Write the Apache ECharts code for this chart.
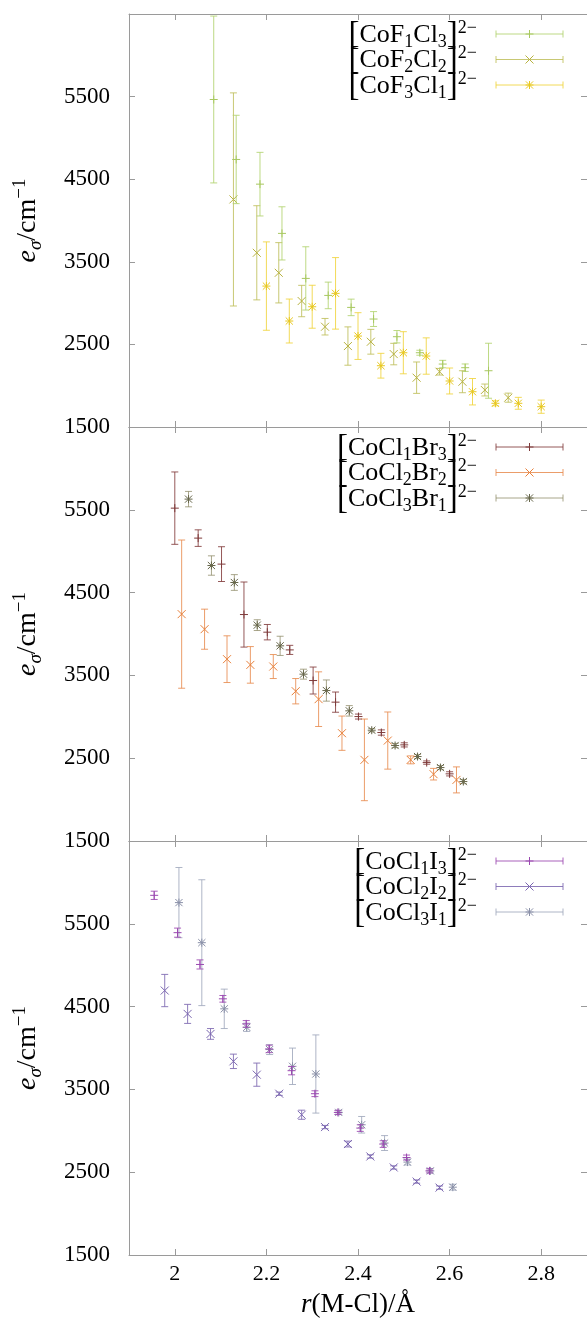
<!DOCTYPE html>
<html>
<head>
<meta charset="utf-8">
<script src="https://cdn.jsdelivr.net/npm/echarts@6.0.0/dist/echarts.min.js"></script>
<style>
html,body{margin:0;padding:0;background:#fff;}
#chart{width:587px;height:1328px;}
</style>
</head>
<body>
<div id="chart"></div>
<script>
// ---------- tick labels ----------
const xTicks = [2, 2.2, 2.4, 2.6, 2.8];
const yTicks = [1500, 2500, 3500, 4500, 5500];

// ---------- panel 1: [CoFnClm]2- ----------
const F1Cl3_x = [2.085, 2.134, 2.186, 2.234, 2.286, 2.335, 2.385, 2.434, 2.485, 2.535, 2.585, 2.634, 2.685];
const F1Cl3_y = [5465, 4739, 4440, 3844, 3299, 3093, 2948, 2807, 2593, 2399, 2262, 2218, 2181];
const F1Cl3_e = [1010, 535, 385, 322, 383, 161, 100, 90, 75, 30, 45, 45, 333];

const F2Cl2_x = [2.128, 2.179, 2.227, 2.277, 2.328, 2.378, 2.428, 2.478, 2.528, 2.578, 2.628, 2.677, 2.728];
const F2Cl2_y = [4255, 3609, 3367, 3025, 2714, 2480, 2532, 2383, 2097, 2169, 2048, 1948, 1855];
const F2Cl2_e = [1290, 570, 365, 190, 100, 232, 150, 130, 190, 40, 133, 72, 55];

const F3Cl1_x = [2.200, 2.250, 2.300, 2.351, 2.400, 2.450, 2.499, 2.549, 2.600, 2.650, 2.700, 2.750, 2.800];
const F3Cl1_y = [3206, 2783, 2956, 3118, 2601, 2242, 2399, 2359, 2057, 1927, 1787, 1787, 1746];
const F3Cl1_e = [535, 266, 260, 433, 283, 150, 255, 220, 157, 160, 30, 72, 80];

// ---------- panel 2: [CoClnBrm]2- ----------
const Cl1Br3_x = [2.000, 2.051, 2.102, 2.151, 2.202, 2.251, 2.302, 2.351, 2.401, 2.451, 2.501, 2.550, 2.600];
const Cl1Br3_y = [5520, 5158, 4844, 4235, 4022, 3808, 3438, 3177, 3003, 2810, 2661, 2447, 2311];
const Cl1Br3_e = [437, 100, 210, 393, 93, 55, 163, 122, 30, 32, 25, 20, 25];

const Cl2Br2_x = [2.015, 2.065, 2.114, 2.165, 2.215, 2.264, 2.314, 2.365, 2.414, 2.465, 2.515, 2.565, 2.615];
const Cl2Br2_y = [4240, 4058, 3696, 3627, 3607, 3309, 3213, 2802, 2480, 2713, 2480, 2307, 2238];
const Cl2Br2_e = [895, 242, 282, 221, 145, 153, 330, 207, 493, 345, 48, 70, 157];

const Cl3Br1_x = [2.030, 2.080, 2.130, 2.180, 2.230, 2.281, 2.331, 2.381, 2.430, 2.481, 2.530, 2.580, 2.630];
const Cl3Br1_y = [5629, 4827, 4622, 4107, 3857, 3515, 3317, 3072, 2838, 2653, 2520, 2387, 2218];
const Cl3Br1_e = [93, 117, 95, 65, 116, 60, 128, 63, 20, 25, 25, 25, 25];

// ---------- panel 3: [CoClnIm]2- ----------
const Cl1I3_x = [1.955, 2.006, 2.055, 2.105, 2.156, 2.206, 2.255, 2.306, 2.356, 2.405, 2.455, 2.506, 2.556];
const Cl1I3_y = [5844, 5393, 5009, 4594, 4291, 3989, 3726, 3448, 3222, 3033, 2840, 2677, 2516];
const Cl1I3_e = [50, 55, 55, 40, 40, 45, 50, 35, 25, 40, 40, 30, 25];

const Cl2I2_x = [1.978, 2.028, 2.078, 2.128, 2.179, 2.228, 2.277, 2.328, 2.378, 2.427, 2.478, 2.528, 2.578];
const Cl2I2_y = [4694, 4412, 4170, 3839, 3678, 3448, 3194, 3045, 2840, 2690, 2557, 2387, 2314];
const Cl2I2_e = [195, 115, 65, 87, 140, 20, 55, 20, 35, 20, 20, 20, 20];

const Cl3I1_x = [2.009, 2.059, 2.108, 2.157, 2.207, 2.257, 2.308, 2.358, 2.408, 2.458, 2.508, 2.558, 2.607];
const Cl3I1_y = [5756, 5272, 4473, 4250, 3981, 3779, 3686, 3222, 3073, 2852, 2622, 2516, 2319];
const Cl3I1_e = [424, 760, 238, 50, 60, 220, 472, 20, 100, 90, 35, 25, 35];

// legend labels: [element1, count1, element2, count2]
const names1 = [['CoF','1','Cl','3'], ['CoF','2','Cl','2'], ['CoF','3','Cl','1']];
const names2 = [['CoCl','1','Br','3'], ['CoCl','2','Br','2'], ['CoCl','3','Br','1']];
const names3 = [['CoCl','1','I','3'], ['CoCl','2','I','2'], ['CoCl','3','I','1']];

// ---------- styling / layout ----------
const FONT = 'Liberation Serif';
const AXIS_C = '#9a9a9a';
const panels = [
  { top: 14, height: 413, names: names1, sets: [
    { x: F1Cl3_x, y: F1Cl3_y, e: F1Cl3_e, m: 'plus',  line: 'rgba(178,210,110,0.85)', mark: '#a8c860' },
    { x: F2Cl2_x, y: F2Cl2_y, e: F2Cl2_e, m: 'cross', line: 'rgba(190,190,90,0.85)',  mark: '#b8b240' },
    { x: F3Cl1_x, y: F3Cl1_y, e: F3Cl1_e, m: 'star',  line: 'rgba(240,212,60,0.85)',  mark: '#e8c820' } ]},
  { top: 427, height: 414, names: names2, sets: [
    { x: Cl1Br3_x, y: Cl1Br3_y, e: Cl1Br3_e, m: 'plus',  line: 'rgba(130,60,60,0.85)',   mark: '#7e3a3a' },
    { x: Cl2Br2_x, y: Cl2Br2_y, e: Cl2Br2_e, m: 'cross', line: 'rgba(232,140,80,0.85)',  mark: '#e8803a' },
    { x: Cl3Br1_x, y: Cl3Br1_y, e: Cl3Br1_e, m: 'star',  line: 'rgba(140,136,100,0.75)', mark: '#66664a' } ]},
  { top: 841, height: 414, names: names3, sets: [
    { x: Cl1I3_x, y: Cl1I3_y, e: Cl1I3_e, m: 'plus',  line: 'rgba(160,80,180,0.9)',   mark: '#9a48b0' },
    { x: Cl2I2_x, y: Cl2I2_y, e: Cl2I2_e, m: 'cross', line: 'rgba(130,110,180,0.9)',  mark: '#7a66b0' },
    { x: Cl3I1_x, y: Cl3I1_y, e: Cl3I1_e, m: 'star',  line: 'rgba(160,168,188,0.85)', mark: '#8a90a8' } ]}
];
const GRID_LEFT = 129, GRID_W = 465;

function seg(x1, y1, x2, y2, color, w) {
  return { type: 'line', shape: { x1, y1, x2, y2 }, style: { stroke: color, lineWidth: w || 1 }, silent: true };
}
function markerLines(type, cx, cy, color) {
  const s = 4, d = 3.6, out = [];
  if (type === 'plus' || type === 'star') {
    out.push(seg(cx - s, cy, cx + s, cy, color));
    out.push(seg(cx, cy - s, cx, cy + s, color));
  }
  if (type === 'cross' || type === 'star') {
    const k = type === 'star' ? d : s;
    out.push(seg(cx - k, cy - k, cx + k, cy + k, color));
    out.push(seg(cx - k, cy + k, cx + k, cy - k, color));
  }
  return out;
}
function makeRender(set) {
  return function (params, api) {
    const x = api.value(0), y = api.value(1), e = api.value(2);
    const p = api.coord([x, y]);
    const pt = api.coord([x, y + e]);
    const pb = api.coord([x, y - e]);
    const cw = 3.5;
    const children = [
      seg(p[0], pt[1], p[0], pb[1], set.line),
      seg(p[0] - cw, pt[1], p[0] + cw, pt[1], set.line),
      seg(p[0] - cw, pb[1], p[0] + cw, pb[1], set.line)
    ].concat(markerLines(set.m, p[0], p[1], set.mark));
    return { type: 'group', children };
  };
}
function richName(parts) {
  return '{b|[}{t|' + parts[0] + '}{s|' + parts[1] + '}{t|' + parts[2] + '}{s|' + parts[3] + '}{b|]}{p|2−}';
}
const legendRich = {
  b: { fontFamily: FONT, fontSize: 33, lineHeight: 32, color: '#000', verticalAlign: 'middle' },
  t: { fontFamily: FONT, fontSize: 26, lineHeight: 32, color: '#000', verticalAlign: 'middle' },
  s: { fontFamily: FONT, fontSize: 18, lineHeight: 16, color: '#000', verticalAlign: 'bottom' },
  p: { fontFamily: FONT, fontSize: 18, lineHeight: 16, color: '#000', verticalAlign: 'top' }
};

const grids = [], xAxes = [], yAxes = [], series = [], graphics = [];
const rowOff = [20, 45.5, 71];
panels.forEach((pn, i) => {
  grids.push({ left: GRID_LEFT, width: GRID_W, top: pn.top, height: pn.height, containLabel: false });
  const tickCommon = { show: true, inside: true, length: 6, lineStyle: { color: AXIS_C } };
  xAxes.push({
    gridIndex: i, type: 'value', min: 1.9, max: 2.9, position: 'bottom',
    axisLine: { show: true, onZero: false, lineStyle: { color: AXIS_C, width: 1 } },
    axisTick: Object.assign({ customValues: xTicks }, tickCommon),
    axisLabel: { show: i === 2, customValues: xTicks, fontFamily: FONT, fontSize: 22, color: '#000', margin: 8,
      formatter: v => String(v) },
    splitLine: { show: false },
    name: i === 2 ? '{i|r}{n|(M-Cl)/Å}' : '',
    nameLocation: 'middle', nameGap: 36,
    nameTextStyle: { rich: {
      i: { fontFamily: FONT, fontStyle: 'italic', fontSize: 27, color: '#000' },
      n: { fontFamily: FONT, fontSize: 27, color: '#000' } } }
  });
  xAxes.push({
    gridIndex: i, type: 'value', min: 1.9, max: 2.9, position: 'top',
    axisLine: { show: true, onZero: false, lineStyle: { color: AXIS_C, width: 1 } },
    axisTick: Object.assign({ customValues: xTicks }, tickCommon),
    axisLabel: { show: false }, splitLine: { show: false }
  });
  yAxes.push({
    gridIndex: i, type: 'value', min: 1500, max: 6500, position: 'left',
    axisLine: { show: true, onZero: false, lineStyle: { color: AXIS_C, width: 1 } },
    axisTick: Object.assign({ customValues: yTicks }, tickCommon),
    axisLabel: { show: true, customValues: yTicks, fontFamily: FONT, fontSize: 23, color: '#000', margin: 19,
      formatter: v => String(v) },
    splitLine: { show: false },
    name: '{i|e}{s|σ}{n|/cm}{p|−1}',
    nameLocation: 'middle', nameRotate: 90, nameGap: 84,
    nameTextStyle: { rich: {
      i: { fontFamily: FONT, fontStyle: 'italic', fontSize: 28, lineHeight: 34, color: '#000', verticalAlign: 'middle' },
      s: { fontFamily: FONT, fontStyle: 'italic', fontSize: 19, lineHeight: 18, color: '#000', verticalAlign: 'bottom' },
      n: { fontFamily: FONT, fontSize: 28, lineHeight: 34, color: '#000', verticalAlign: 'middle' },
      p: { fontFamily: FONT, fontSize: 19, lineHeight: 18, color: '#000', verticalAlign: 'top' } } }
  });
  yAxes.push({
    gridIndex: i, type: 'value', min: 1500, max: 6500, position: 'right',
    axisLine: { show: true, onZero: false, lineStyle: { color: AXIS_C, width: 1 } },
    axisTick: Object.assign({ customValues: yTicks }, tickCommon),
    axisLabel: { show: false }, splitLine: { show: false }
  });
  pn.sets.forEach((set, j) => {
    const data = set.x.map((xv, k) => [xv, set.y[k], set.e[k]]);
    series.push({
      type: 'custom', xAxisIndex: 2 * i, yAxisIndex: 2 * i,
      renderItem: makeRender(set), data, clip: true, silent: true,
      encode: { x: 0, y: 1 }, z: 10 - j
    });
    // legend entry
    const ly = pn.top + rowOff[j];
    const lx1 = 496, lx2 = 563, lxm = (lx1 + lx2) / 2;
    graphics.push({
      type: 'text', x: 477, y: ly + 1,
      style: { text: richName(pn.names[j]), rich: legendRich, align: 'right', verticalAlign: 'middle', fill: '#000' }
    });
    graphics.push(seg(lx1, ly, lx2, ly, set.line));
    graphics.push(seg(lx1, ly - 3.5, lx1, ly + 3.5, set.line));
    graphics.push(seg(lx2, ly - 3.5, lx2, ly + 3.5, set.line));
    markerLines(set.m, lxm, ly, set.mark).forEach(g => graphics.push(g));
  });
});

const chart = echarts.init(document.getElementById('chart'), null, { renderer: 'canvas' });
chart.setOption({
  animation: false,
  backgroundColor: '#fff',
  grid: grids, xAxis: xAxes, yAxis: yAxes, series,
  graphic: graphics
});
</script>
</body>
</html>
